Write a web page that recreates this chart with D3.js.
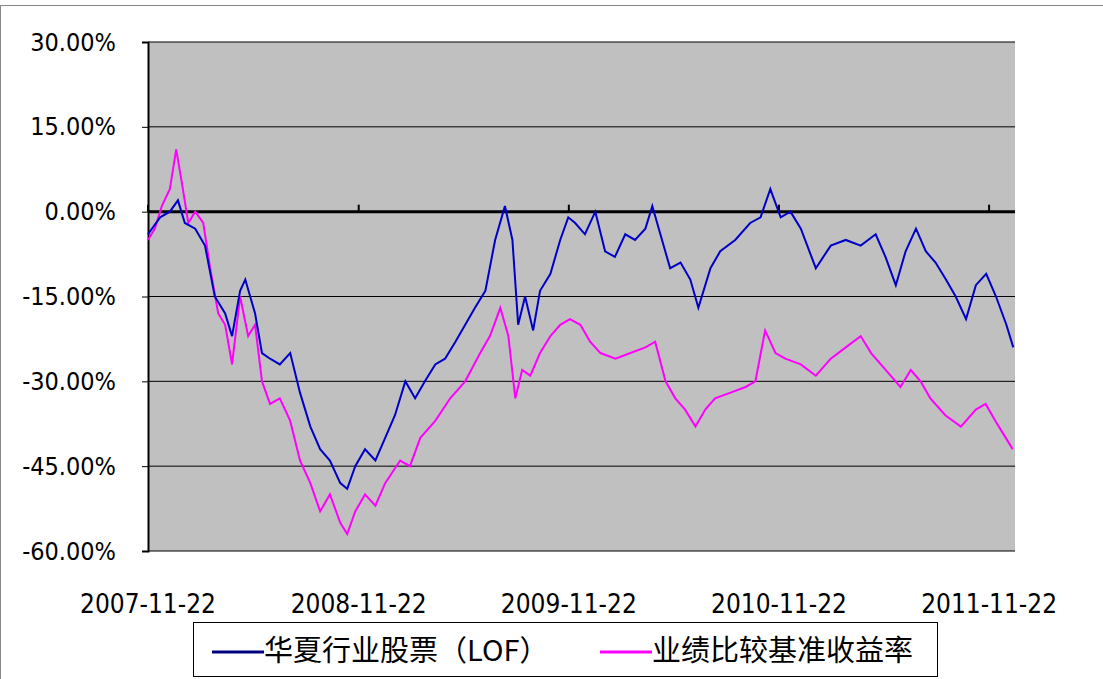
<!DOCTYPE html>
<html><head><meta charset="utf-8">
<script src="https://cdn.jsdelivr.net/npm/d3@7"></script>
<style>body{margin:0;background:#fff}</style>
</head><body><div id="chart"></div>
<script>
// days since 2007-11-22, cumulative return %
var fundDays = [0,21,38,52,64,82,99,116,134,146,160,169,186,198,212,229,247,264,282,299,316,334,346,360,377,395,412,429,447,464,481,499,516,534,551,568,586,603,620,633,643,655,669,681,699,716,730,742,759,777,794,811,829,846,864,876,890,907,925,942,956,977,994,1020,1046,1064,1081,1099,1116,1134,1160,1186,1212,1238,1264,1281,1299,1316,1334,1351,1368,1386,1403,1421,1438,1456,1473,1491,1503];
var fundVals = [-4,-1,0,2,-2,-3,-6,-15,-18,-22,-14,-12,-18,-25,-26,-27,-25,-32,-38,-42,-44,-48,-49,-45,-42,-44,-40,-36,-30,-33,-30,-27,-26,-23,-20,-17,-14,-5,1,-5,-20,-15,-21,-14,-11,-5,-1,-2,-4,0,-7,-8,-4,-5,-3,1,-4,-10,-9,-12,-17,-10,-7,-5,-2,-1,4,-1,0,-3,-10,-6,-5,-6,-4,-8,-13,-7,-3,-7,-9,-12,-15,-19,-13,-11,-15,-20,-24];
var benchDays = [0,12,24,38,49,59,70,82,96,108,122,134,146,160,174,186,198,212,229,247,264,282,299,316,334,346,360,377,395,412,438,455,473,499,525,551,577,594,612,626,638,650,664,681,699,716,733,751,768,786,812,838,864,881,899,916,933,951,968,985,1012,1038,1055,1072,1090,1107,1134,1160,1186,1212,1238,1256,1273,1290,1307,1325,1342,1359,1385,1412,1438,1455,1472,1490,1502];
var benchVals = [-5,-3,1,4,11,5,-2,0,-2,-10,-18,-20,-27,-15,-22,-20,-30,-34,-33,-37,-44,-48,-53,-50,-55,-57,-53,-50,-52,-48,-44,-45,-40,-37,-33,-30,-25,-22,-17,-22,-33,-28,-29,-25,-22,-20,-19,-20,-23,-25,-26,-25,-24,-23,-30,-33,-35,-38,-35,-33,-32,-31,-30,-21,-25,-26,-27,-29,-26,-24,-22,-25,-27,-29,-31,-28,-30,-33,-36,-38,-35,-34,-37,-40,-42];
var yTicks = [30,15,0,-15,-30,-45,-60];
var xTickLabels = ["2007-11-22","2008-11-22","2009-11-22","2010-11-22","2011-11-22"];
var seriesNames = ["华夏行业股票（LOF）","业绩比较基准收益率"];

var W = 1103, H = 679;
var svg = d3.select("#chart").append("svg").attr("width", W).attr("height", H);
svg.append("rect").attr("x",0.5).attr("y",5.5).attr("width",W).attr("height",H)
  .attr("fill","none").attr("stroke","#888");

var parse = d3.timeParse("%Y-%m-%d");
var start = parse(xTickLabels[0]);
var x = d3.scaleTime().domain([start, d3.timeDay.offset(start, 1506)]).range([148, 1015]);
var y = d3.scaleLinear().domain([-60, 30]).range([551, 42]);

svg.append("rect").attr("x",148).attr("y",42).attr("width",867).attr("height",509).attr("fill","#c0c0c0");

// gridlines
svg.selectAll(".grid").data(yTicks).enter().append("line")
  .attr("x1",148).attr("x2",1015)
  .attr("y1",function(d){return y(d);}).attr("y2",function(d){return y(d);})
  .attr("stroke","#000").attr("stroke-width",function(d){return d===0?3:1;});

// y axis
var ya = svg.append("g").attr("transform","translate(148,0)")
  .call(d3.axisLeft(y).tickValues(yTicks).tickSize(6).tickPadding(26)
    .tickFormat(function(d){return d.toFixed(2)+"%";}));
ya.select(".domain").attr("stroke","#000").attr("stroke-width",2);
ya.selectAll("text").attr("font-family","DejaVu Sans Condensed").attr("font-size",25).attr("fill","#000");

// x ticks on zero line
var tickDates = xTickLabels.map(parse);
svg.selectAll(".xt").data(tickDates).enter().append("line")
  .attr("x1",function(d){return x(d);}).attr("x2",function(d){return x(d);})
  .attr("y1",y(0)-7).attr("y2",y(0)).attr("stroke","#000").attr("stroke-width",2);
svg.selectAll(".xl").data(tickDates).enter().append("text")
  .attr("x",function(d){return x(d);}).attr("y",613).attr("text-anchor","middle")
  .attr("font-family","DejaVu Sans Condensed").attr("font-size",26)
  .text(function(d,i){return xTickLabels[i];});

var line = d3.line().x(function(d){return x(d3.timeDay.offset(start,d[0]));}).y(function(d){return y(d[1]);});
var bench = benchDays.map(function(d,i){return [d, benchVals[i]];});
var fund = fundDays.map(function(d,i){return [d, fundVals[i]];});
svg.append("path").datum(bench).attr("d",line).attr("fill","none").attr("stroke","#ff00ff").attr("stroke-width",2);
svg.append("path").datum(fund).attr("d",line).attr("fill","none").attr("stroke","#0000c8").attr("stroke-width",2);

// legend
var lg = svg.append("g");
lg.append("rect").attr("x",193.5).attr("y",622.5).attr("width",744).attr("height",54)
  .attr("fill","#fff").attr("stroke","#000");
var colors = ["#000080","#ff00ff"], lx = [212, 600];
seriesNames.forEach(function(n,i){
  lg.append("line").attr("x1",lx[i]).attr("x2",lx[i]+52).attr("y1",652).attr("y2",652)
    .attr("stroke",colors[i]).attr("stroke-width",3);
  lg.append("text").attr("x",lx[i]+52).attr("y",661).attr("font-family","Noto Sans CJK SC")
    .attr("font-size",29).text(n);
});
</script></body></html>
